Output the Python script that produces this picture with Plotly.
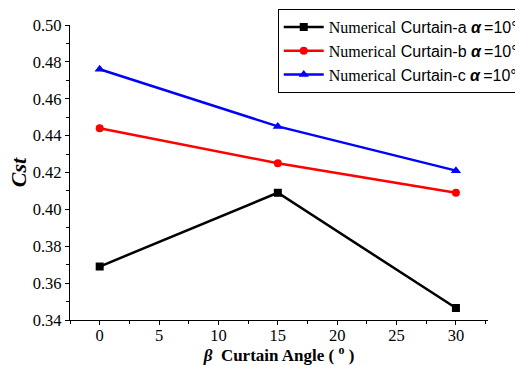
import plotly.graph_objects as go

angles = [0, 15, 30]
curtain_a = [0.369, 0.409, 0.3465]
curtain_b = [0.444, 0.425, 0.409]
curtain_c = [0.476, 0.445, 0.421]
names = ["a", "b", "c"]
colors = ["black", "red", "blue"]
symbols = ["square", "circle", "triangle-up"]

SERIF = "Liberation Serif"
SANS = "Liberation Sans"

def label(n):
    return ('<span style="font-family:Liberation Serif">Numerical</span> '
            'Curtain-' + n + ' <b><i>α</i></b>\u2009=10°')

fig = go.Figure()
for vals, n, c, s in zip([curtain_a, curtain_b, curtain_c], names, colors, symbols):
    fig.add_trace(go.Scatter(
        x=angles, y=vals, mode="lines+markers", name=label(n),
        line=dict(color=c, width=2.5),
        marker=dict(symbol=s, size=8 if s != "triangle-up" else 9, color=c),
    ))

axis_common = dict(
    showline=True, linecolor="black", linewidth=1.2, mirror=False,
    ticks="outside", ticklen=4, tickcolor="black", tickwidth=1,
    showgrid=False, zeroline=False,
    tickfont=dict(family=SERIF, size=16.5, color="black"),
)
fig.update_xaxes(range=[-2.5, 32.7], dtick=5, tick0=0, ticklabelstandoff=-4,
                 minor=dict(dtick=2.5, ticks="outside", ticklen=3, tickcolor="black"),
                 title=dict(text="<b><i>β</i>  Curtain Angle ( <sup>o</sup> )</b>",
                            font=dict(family=SERIF, size=17, color="black"),
                            standoff=0),
                 **axis_common)
fig.update_yaxes(range=[0.34, 0.50], dtick=0.02, tickformat=".2f",
                 minor=dict(dtick=0.01, ticks="outside", ticklen=3, tickcolor="black"),
                 title=dict(text="<b><i>Cst</i></b>",
                            font=dict(family=SERIF, size=22, color="black"),
                            standoff=0),
                 **axis_common)

fig.update_layout(
    width=515, height=365,
    margin=dict(l=70, r=27, t=25, b=45, autoexpand=False),
    paper_bgcolor="white", plot_bgcolor="white",
    legend=dict(x=0.497, y=1.054, xanchor="left", yanchor="top",
                bordercolor="black", borderwidth=1, bgcolor="white",
                font=dict(family=SANS, size=16, color="black"),
                tracegroupgap=0, itemwidth=40),
    showlegend=True,
)

fig.write_html("out.html")
